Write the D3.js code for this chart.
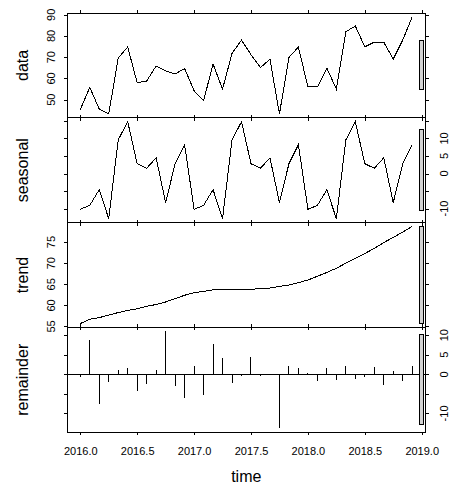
<!DOCTYPE html>
<html>
<head>
<meta charset="utf-8">
<script src="https://cdn.jsdelivr.net/npm/d3@7"></script>
<style>
body { margin: 0; background: #fff; }
text { font-family: "Liberation Sans", Arial, sans-serif; fill: #000; }
</style>
</head>
<body>
<div id="chart-area"></div>
<script>
/*
*    stl decomposition plot
*/

// monthly series, starting Jan 2016
var start = 2016, freq = 12;

var dataValues = [45.3, 55.8, 45.6, 43.3, 69.6, 74.8, 58.0, 58.8, 65.9, 63.6, 62.1, 64.7,
                  54.2, 49.5, 66.8, 55.0, 71.8, 78.1, 71.2, 65.1, 69.1, 43.3, 69.9, 74.8,
                  56.0, 56.0, 64.9, 55.0, 82.0, 84.7, 74.9, 77.1, 77.1, 69.1, 78.1, 89.0];

var seasonalValues = [-10.2, -9.1, -4.6, -12.9, 9.6, 14.8, 2.8, 1.5, 4.5, -8.3, 2.8, 8.2,
                      -10.2, -9.1, -4.6, -12.9, 9.6, 14.8, 2.8, 1.5, 4.5, -8.3, 2.8, 8.2,
                      -10.2, -9.1, -4.6, -12.9, 9.6, 14.8, 2.8, 1.5, 4.5, -8.3, 2.8, 8.2];

var trendValues = [55.7, 56.7, 57.1, 57.7, 58.3, 58.8, 59.2, 59.8, 60.2, 60.8, 61.6, 62.4,
                   63.0, 63.3, 63.7, 63.7, 63.7, 63.7, 63.8, 64.0, 64.1, 64.5, 64.8, 65.4,
                   66.0, 66.9, 67.8, 68.8, 70.0, 71.1, 72.3, 73.5, 74.9, 76.1, 77.4, 78.7];

var remainderValues = [-0.6, 8.7, -7.7, -1.9, 1.0, 1.7, -4.2, -2.5, 1.0, 11.0, -2.9, -6.0,
                       2.2, -5.4, 7.7, 4.2, -2.3, -0.4, 4.5, -0.4, -0.3, -13.8, 2.2, 1.5,
                       0.3, -1.8, 1.5, -1.4, 2.0, -1.1, -0.6, 1.8, -2.7, 0.8, -1.7, 2.2];

var panelNames = ["data", "seasonal", "trend", "remainder"];

var xTicks = [2016.0, 2016.5, 2017.0, 2017.5, 2018.0, 2018.5, 2019.0];

var yTicks = [[50, 60, 70, 80, 90],
              [-10, -5, 0, 5, 10, 15],
              [55, 60, 65, 70, 75],
              [-10, -5, 0, 5, 10]];
var yTickLabels = [[50, 60, 70, 80, 90],
                   [-10, 0, 5, 10],
                   [55, 60, 65, 70, 75],
                   [-10, 0, 5, 10]];

var margin = {left: 67, right: 42.5, top: 13, bottom: 63.8};
var width = 468 - margin.left - margin.right,
	panelHeight = (496 - margin.top - margin.bottom) / 4;

var svg = d3.select("#chart-area")
		.append("svg")
			.attr("width", 468)
			.attr("height", 496);

var series = [dataValues, seasonalValues, trendValues, remainderValues];
var times = d3.range(dataValues.length).map(function(i){ return start + i / freq; });

// R style 4% padding on every axis
function padded(ext){
	var p = 0.04 * (ext[1] - ext[0]);
	return [ext[0] - p, ext[1] + p];
}

var xScale = d3.scaleLinear()
		.domain(padded(d3.extent(times)))
		.range([0, width]);

// range bars all show the smallest component range
var minRange = d3.min(series, function(s){
	var e = d3.extent(s);
	return e[1] - e[0];
});

series.forEach(function(values, i){
	var g = svg.append("g")
			.attr("transform", "translate(" + margin.left + "," + (margin.top + i * panelHeight) + ")");

	var ext = d3.extent(values);
	var yScale = d3.scaleLinear()
			.domain(padded(ext))
			.range([panelHeight, 0]);

	var pts = values.map(function(v, k){ return [times[k], v]; });

	if (i < 3) {
		var line = d3.line()
				.x(function(d){ return xScale(d[0]); })
				.y(function(d){ return yScale(d[1]); });
		g.append("path")
			.attr("d", line(pts))
			.attr("fill", "none")
			.attr("stroke", "#000")
			.attr("stroke-width", 1)
			.attr("shape-rendering", "crispEdges");
	}
	else {
		// zero line + spikes
		g.append("line")
			.attr("x1", 0).attr("x2", width)
			.attr("y1", yScale(0)).attr("y2", yScale(0))
			.attr("stroke", "#000")
			.attr("shape-rendering", "crispEdges");
		g.selectAll("line.spike")
			.data(pts)
			.enter()
			.append("line")
				.attr("class", "spike")
				.attr("x1", function(d){ return xScale(d[0]); })
				.attr("x2", function(d){ return xScale(d[0]); })
				.attr("y1", yScale(0))
				.attr("y2", function(d){ return yScale(d[1]); })
				.attr("stroke", "#000")
				.attr("shape-rendering", "crispEdges");
	}

	// range bar
	var ux = xScale.domain();
	var dx = (ux[1] - ux[0]) / 64;
	var mid = (ext[0] + ext[1]) / 2;
	g.append("rect")
		.attr("x", xScale(ux[1] - dx))
		.attr("width", xScale(ux[1] - 0.4 * dx) - xScale(ux[1] - dx))
		.attr("y", yScale(mid + minRange / 2))
		.attr("height", yScale(mid - minRange / 2) - yScale(mid + minRange / 2))
		.attr("fill", "#d3d3d3")
		.attr("stroke", "#000")
		.attr("shape-rendering", "crispEdges");

	// box
	g.append("rect")
		.attr("width", width)
		.attr("height", panelHeight)
		.attr("fill", "none")
		.attr("stroke", "#000")
		.attr("shape-rendering", "crispEdges");

	var right = (i % 2 == 1);
	var last = (i == series.length - 1);

	// axes on all four sides, labels only on some
	var axes = [
		g.append("g").call(d3.axisLeft(yScale).tickValues(yTicks[i]).tickSize(3).tickFormat("")),
		g.append("g").attr("transform", "translate(" + width + ",0)")
			.call(d3.axisRight(yScale).tickValues(yTicks[i]).tickSize(3).tickFormat("")),
		g.append("g").call(d3.axisTop(xScale).tickValues(xTicks).tickSize(3).tickFormat("")),
		g.append("g").attr("transform", "translate(0," + panelHeight + ")")
			.call(d3.axisBottom(xScale).tickValues(xTicks).tickSize(3).tickPadding(12.5)
				.tickFormat(last ? d3.format(".1f") : ""))
	];
	axes.forEach(function(a){
		a.select(".domain").remove();
		a.selectAll("line").attr("shape-rendering", "crispEdges");
		a.selectAll("text")
			.attr("font-size", "11px")
			.attr("font-family", "'Liberation Sans', Arial, sans-serif");
	});

	// y tick labels, rotated like R
	var lx = right ? width + 22.5 : -12;
	g.selectAll("text.ylab")
		.data(yTickLabels[i])
		.enter()
		.append("text")
			.attr("class", "ylab")
			.attr("transform", function(d){ return "translate(" + lx + "," + yScale(d) + ") rotate(-90)"; })
			.attr("text-anchor", "middle")
			.attr("font-size", "11px")
			.text(function(d){ return d; });

	// panel title
	svg.append("text")
		.attr("transform", "translate(27.5," + (margin.top + (i + 0.5) * panelHeight) + ") rotate(-90)")
		.attr("text-anchor", "middle")
		.attr("font-size", "16px")
		.text(panelNames[i]);
}); //forEach

// x title
svg.append("text")
	.attr("x", margin.left + width / 2)
	.attr("y", 482)
	.attr("text-anchor", "middle")
	.attr("font-size", "16px")
	.text("time");
</script>
</body>
</html>
